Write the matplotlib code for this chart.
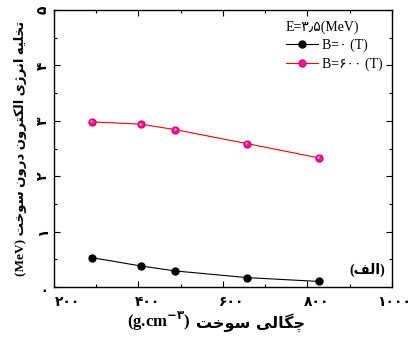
import matplotlib
matplotlib.use("Agg")
import matplotlib.pyplot as plt
from matplotlib.ticker import MultipleLocator
from matplotlib import transforms

plt.rcParams['font.family'] = ['Liberation Serif', 'DejaVu Sans']
plt.rcParams['mathtext.fontset'] = 'custom'
plt.rcParams['mathtext.rm'] = 'DejaVu Sans:bold'

# data
density = [290, 405, 487, 656, 827]
loss_b0 = [0.53, 0.38, 0.29, 0.17, 0.10]
loss_b600 = [2.98, 2.94, 2.84, 2.59, 2.33]

x_ticks = [200, 400, 600, 800, 1000]
x_ticklabels = ['۲۰۰', '۴۰۰', '۶۰۰', '۸۰۰', '۱۰۰۰']
y_ticks = [0, 1, 2, 3, 4, 5]
y_ticklabels = ['۰', '۱', '۲', '۳', '۴', '۵']

legend_title = 'E=۳٫۵(MeV)'
series_labels = ['B=۰ (T)', 'B=۶۰۰ (T)']

# (isolated, final, initial, medial) presentation forms
FORMS = {
    'ا': ('\uFE8D', '\uFE8E', None, None),
    'د': ('\uFEA9', '\uFEAA', None, None),
    'ر': ('\uFEAD', '\uFEAE', None, None),
    'ژ': ('\uFB8A', '\uFB8B', None, None),
    'و': ('\uFEED', '\uFEEE', None, None),
    'ت': ('\uFE95', '\uFE96', '\uFE97', '\uFE98'),
    'خ': ('\uFEA5', '\uFEA6', '\uFEA7', '\uFEA8'),
    'ل': ('\uFEDD', '\uFEDE', '\uFEDF', '\uFEE0'),
    'ی': ('\uFBFC', '\uFBFD', '\uFBFE', '\uFBFF'),
    'ه': ('\uFEE9', '\uFEEA', '\uFEEB', '\uFEEC'),
    'ن': ('\uFEE5', '\uFEE6', '\uFEE7', '\uFEE8'),
    'ک': ('\uFB8E', '\uFB8F', '\uFB90', '\uFB91'),
    'س': ('\uFEB1', '\uFEB2', '\uFEB3', '\uFEB4'),
    'چ': ('\uFB7A', '\uFB7B', '\uFB7C', '\uFB7D'),
    'گ': ('\uFB92', '\uFB93', '\uFB94', '\uFB95'),
    'ف': ('\uFED1', '\uFED2', '\uFED3', '\uFED4'),
}


def shape(s):
    # join letters and flip to visual order (no bidi lib available)
    out = []
    for i, ch in enumerate(s):
        if ch not in FORMS:
            out.append(ch)
            continue
        iso, fin, ini, med = FORMS[ch]
        prev = s[i - 1] if i > 0 else ''
        nxt = s[i + 1] if i + 1 < len(s) else ''
        jp = prev in FORMS and FORMS[prev][2] is not None
        jn = ini is not None and nxt in FORMS
        if jp and jn:
            out.append(med)
        elif jp:
            out.append(fin)
        elif jn:
            out.append(ini)
        else:
            out.append(iso)
    return ''.join(out)[::-1]


fig = plt.figure(figsize=(4.1, 3.43), dpi=100)
ax = fig.add_axes([54 / 410, 1 - 287 / 343, 338 / 410, 277 / 343])

ax.plot(density, loss_b0, color='black', lw=0.8, marker='o', ms=5,
        mfc='black', mec='black', label=series_labels[0])
ax.plot(density, loss_b600, color='#ff0000', lw=0.8, marker='o', ms=5,
        mfc='#ff1493', mec='#e0007a', label=series_labels[1])
# small highlight on the pink balls
hl = transforms.offset_copy(ax.transData, fig=fig, x=-0.6, y=0.6, units='dots')
ax.plot(density, loss_b600, ls='none', marker='o', ms=1.6, mfc='#ffc0e0',
        mec='none', transform=hl)

ax.set_xlim(200, 1000)
ax.set_ylim(0, 5)
ax.set_xticks(x_ticks)
ax.set_xticklabels(x_ticklabels, family=['DejaVu Sans'], fontsize=10,
                   fontweight='bold')
ax.set_yticks(y_ticks)
ax.set_yticklabels(y_ticklabels, family=['DejaVu Sans'], fontsize=10,
                   fontweight='bold', rotation=90, va='center')
ax.xaxis.set_minor_locator(MultipleLocator(100))
ax.yaxis.set_minor_locator(MultipleLocator(0.5))
ax.tick_params(which='both', direction='in', top=True, right=True, width=0.8)
ax.tick_params(which='major', length=4)
ax.tick_params(which='minor', length=2.5)
ax.tick_params(axis='x', pad=6)
ax.tick_params(axis='y', pad=3)
shifts = [14, 9, 9, 9, 2]
for lab, dx in zip(ax.get_xticklabels(), shifts):
    lab.set_transform(lab.get_transform() + transforms.ScaledTranslation(dx / 100, 0, fig.dpi_scale_trans))
for sp in ax.spines.values():
    sp.set_linewidth(1.0)

ax.set_ylabel('(MeV) ' + shape('تخلیه انرژی الکترون درون سوخت'),
              fontsize=9.5, fontweight='bold')
ax.yaxis.set_label_coords(-0.08, 0.5)

t1 = fig.text(127 / 410, 1 - 328 / 343, r'(g.cm$^{-۳}$)', fontsize=12,
              fontweight='bold', family='Liberation Serif', va='baseline')
ax.annotate(shape('چگالی سوخت'), xy=(1.0, 1 - 328 / 343),
            xycoords=(t1, 'figure fraction'), xytext=(4, 0),
            textcoords='offset points', fontsize=11.5, fontweight='bold',
            family=['DejaVu Sans'], va='baseline', ha='left')

ax.text(0.979, 0.061, '(' + shape('الف') + ')', transform=ax.transAxes,
        ha='right', va='center', fontsize=10, fontweight='bold',
        family=['Liberation Serif', 'DejaVu Sans'])

leg = ax.legend(title=legend_title, loc='upper left',
                bbox_to_anchor=(0.686, 0.962), frameon=False, fontsize=10,
                title_fontsize=10, handlelength=2.3, handletextpad=0.3,
                borderpad=0, labelspacing=0.35, borderaxespad=0)
leg._legend_box.align = 'left'

fig.savefig('out.png', dpi=100)
